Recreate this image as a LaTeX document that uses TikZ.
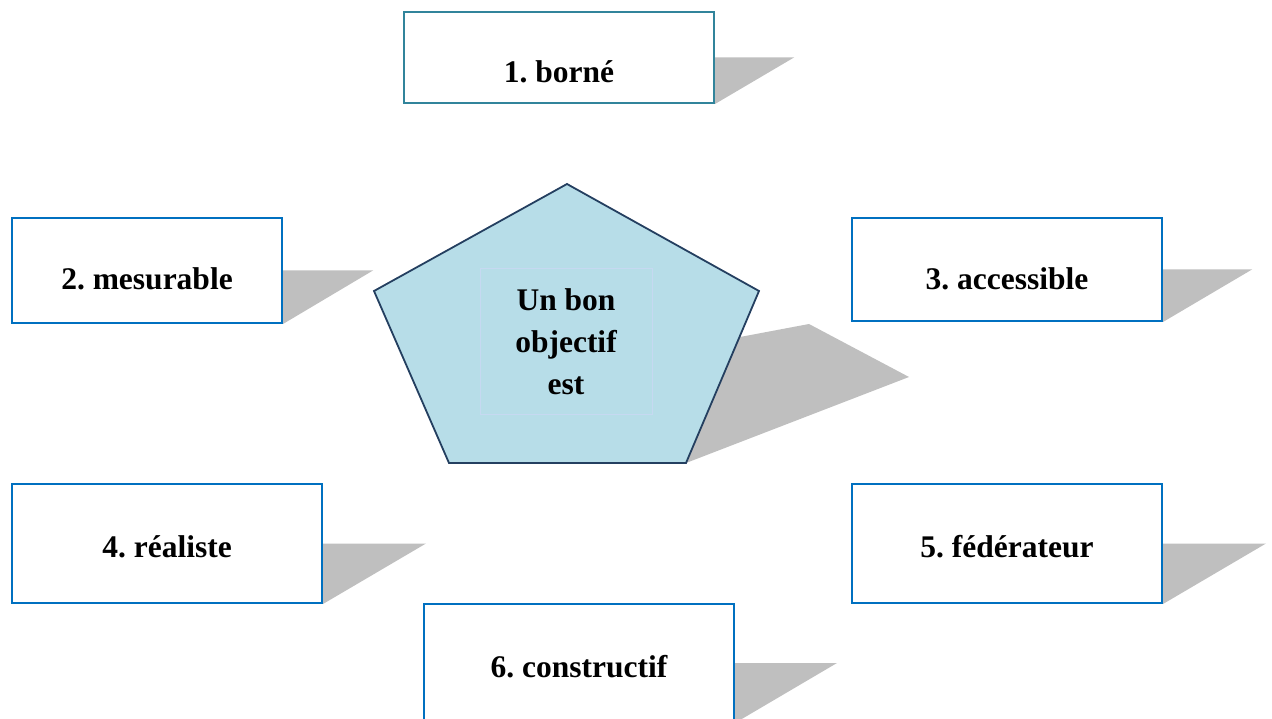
\documentclass[tikz,border=0pt]{standalone}
\usepackage{fontspec}
\setmainfont{Liberation Serif}
\definecolor{boxblue}{HTML}{0070C0}
\definecolor{boxteal}{HTML}{31849B}
\definecolor{shadowgray}{HTML}{BFBFBF}
\definecolor{pentfill}{HTML}{B7DDE8}
\definecolor{pentline}{HTML}{243F60}
\definecolor{innerline}{HTML}{C6D9F1}
\begin{document}
\frenchspacing
\begin{tikzpicture}[x=1pt,y=-1pt,
  box/.style={rectangle, draw=boxblue, line width=2pt, fill=white, inner sep=0pt},
  lbl/.style={anchor=base, inner sep=0pt, font=\bfseries\fontsize{31.5}{42}\selectfont},
  shadowtri/.style={fill=shadowgray, draw=none}]
\useasboundingbox (0,0) rectangle (1272,719);
\clip (0,0) rectangle (1272,719);

% pentagon with its shadow
\coordinate (pT)  at (567,184);
\coordinate (pR)  at (759,291);
\coordinate (pBR) at (686,463);
\coordinate (pBL) at (449,463);
\coordinate (pL)  at (374,291);
\coordinate (s1) at (740,337);
\coordinate (s2) at (809,324);
\coordinate (s3) at (909,377);
\fill[shadowtri] (s1) -- (s2) -- (s3) -- (pBR) -- cycle;
\draw[fill=pentfill, draw=pentline, line width=1.8pt, line join=miter]
  (pT) -- (pR) -- (pBR) -- (pBL) -- (pL) -- cycle;
\node[draw=innerline, line width=1pt, minimum width=172pt, minimum height=145pt,
      align=center, inner sep=0pt, font=\bfseries\fontsize{31.5}{42}\selectfont]
  (core) at (566,341.5) {Un bon\\objectif\\est};

% the six boxes
\node[box, draw=boxteal, minimum width=310pt, minimum height=91pt]  (b1) at (559,57.5) {};
\node[box, minimum width=270pt, minimum height=105pt] (b2) at (147,270.5) {};
\node[box, minimum width=310pt, minimum height=103pt] (b3) at (1007,269.5) {};
\node[box, minimum width=310pt, minimum height=119pt] (b4) at (167,543.5) {};
\node[box, minimum width=310pt, minimum height=119pt] (b5) at (1007,543.5) {};
\node[box, minimum width=310pt, minimum height=118pt] (b6) at (579,663) {};

% box shadows
\fill[shadowtri] (b1.east) -- ++(79,0)  -- (b1.south east) -- cycle;
\fill[shadowtri] (b2.east) -- ++(90,0)  -- (b2.south east) -- cycle;
\fill[shadowtri] (b3.east) -- ++(89,0)  -- (b3.south east) -- cycle;
\fill[shadowtri] (b4.east) -- ++(103,0) -- (b4.south east) -- cycle;
\fill[shadowtri] (b5.east) -- ++(103,0) -- (b5.south east) -- cycle;
\fill[shadowtri] (b6.east) -- ++(102,0) -- (b6.south east) -- cycle;

% box labels
\node[lbl] (l1) at (559,83)   {1. borné};
\node[lbl] (l2) at (147,290)  {2. mesurable};
\node[lbl] (l3) at (1007,290) {3. accessible};
\node[lbl] (l4) at (167,557)  {4. réaliste};
\node[lbl] (l5) at (1007,557) {5. fédérateur};
\node[lbl] (l6) at (579,677)  {6. constructif};
\end{tikzpicture}
\end{document}
